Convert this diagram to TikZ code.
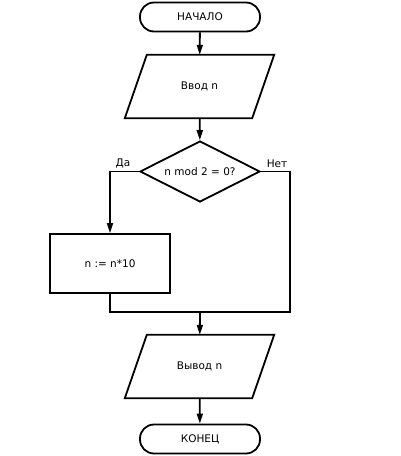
\documentclass[tikz,border=0pt]{standalone}
\usepackage{fontspec}
\setmainfont{DejaVu Sans}
\usetikzlibrary{shapes.geometric,arrows.meta}
\begin{document}
\begin{tikzpicture}[x=1pt,y=-1pt,
  every node/.style={font=\fontsize{10.5}{12}\selectfont},
  line/.style={line width=1.8pt,black},
  arr/.style={line,-{Triangle[length=10pt,width=6pt]}},
  term/.style={draw,line width=1.8pt,rectangle,rounded corners=14pt,minimum width=120pt,minimum height=29pt,inner sep=0pt},
  iobox/.style={rectangle,minimum width=127pt,minimum height=63pt,inner sep=0pt},
  dec/.style={draw,line width=1.8pt,diamond,aspect=2,minimum width=120pt,minimum height=61pt,inner sep=0pt},
  proc/.style={draw,line width=1.8pt,rectangle,minimum width=120pt,minimum height=59pt,inner sep=0pt},
  lbl/.style={inner sep=1pt}]
\useasboundingbox (0,0) rectangle (400,456);
\node[term] (start) at (200,17) {НАЧАЛО};
\node[iobox] (in) at (199.5,86.5) {Ввод n};
\draw[line] ([xshift=11pt]in.north west) -- ([xshift=11pt]in.north east) -- ([xshift=-11pt]in.south east) -- ([xshift=-11pt]in.south west) -- cycle;
\node[dec] (cond) at (200,171.5) {n mod 2 = 0?};
\node[proc] (box) at (110,263.5) {n := n*10};
\node[iobox] (out) at (199.5,366.5) {Вывод n};
\draw[line] ([xshift=11pt]out.north west) -- ([xshift=11pt]out.north east) -- ([xshift=-11pt]out.south east) -- ([xshift=-11pt]out.south west) -- cycle;
\node[term] (end) at (200,439) {КОНЕЦ};
\coordinate (lc) at (110,171.5);
\coordinate (rc) at (290,171.5);
\coordinate (rj) at (290,312);
\coordinate (merge) at (200,312);
\node[lbl,anchor=south] (yes) at (123,169) {Да};
\node[lbl,anchor=south] (no) at (277,169) {Нет};
\draw[arr] (start) -- (in);
\draw[arr] (in) -- (cond);
\draw[arr] (cond.west) -- (lc) -- (box.north);
\draw[line] (cond.east) -- (rc) -- (rj) -| (box.south);
\draw[arr] (merge) -- (out);
\draw[arr] (out) -- (end);
\end{tikzpicture}
\end{document}
